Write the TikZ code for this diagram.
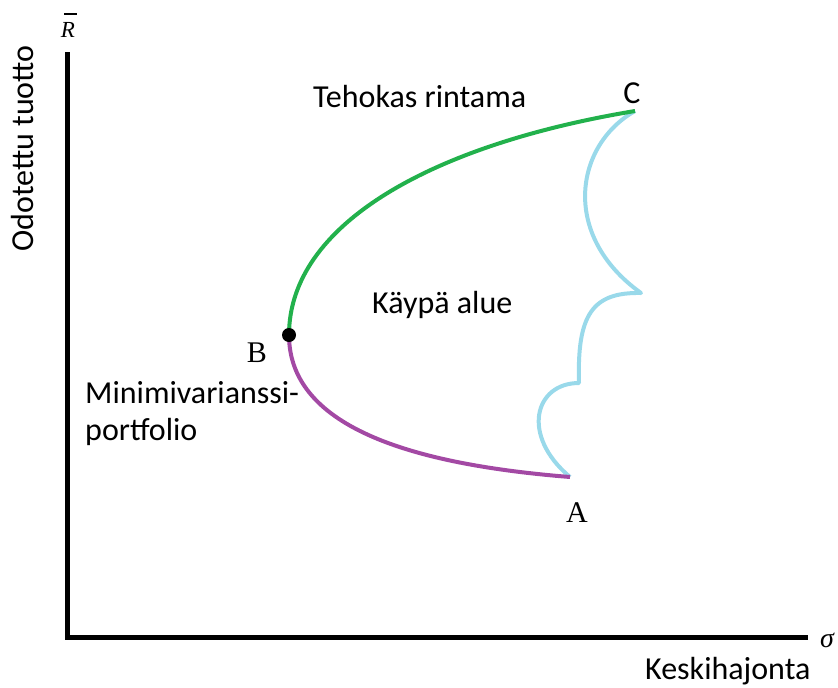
\documentclass[tikz,border=0pt]{standalone}
\usepackage{fontspec}
\setmainfont{Carlito}
\newfontfamily\serifA{Liberation Serif}
\definecolor{effgreen}{RGB}{34,177,76}
\definecolor{minpurple}{RGB}{163,73,164}
\definecolor{setblue}{RGB}{153,217,234}
\tikzset{
  axisline/.style={line width=5pt},
  curveline/.style={line width=4pt},
  lbl/.style={font=\fontsize{32}{38}\selectfont, inner sep=0pt},
  pointlbl/.style={font=\fontsize{30}{36}\selectfont\serifA, inner sep=0pt},
  mathlbl/.style={font=\serifA\itshape, inner sep=0pt},
}
\begin{document}
\begin{tikzpicture}[x=1pt,y=-1pt]
\useasboundingbox (0,0) rectangle (838,688);
% key points
\coordinate (O) at (67,637);
\coordinate (Ytop) at (67,52);
\coordinate (Xend) at (808,637);
\coordinate (B) at (289,335);
\coordinate (C) at (635,111);
\coordinate (A) at (570,477);
\coordinate (K1) at (641,293);
\coordinate (K2) at (579,383);
% axes
\draw[axisline] (Ytop) -- (O) -- (Xend);
% feasible set boundary
\draw[curveline, setblue, line join=round] (C) .. controls (575,145) and (560,235) .. (K1)
  .. controls (592,292) and (577,315) .. (K2)
  .. controls (535,383) and (520,435) .. (A);
% efficient frontier
\draw[curveline, effgreen] (B) .. controls (289,225) and (430,145) .. (C);
% lower part
\draw[curveline, minpurple] (B) .. controls (289,430) and (420,465) .. (A);
\fill (B) circle (7);
% labels
\node[lbl, anchor=base west] (teho) at (313,107) {Tehokas rintama};
\node[lbl, anchor=base] (lc) at (632,103) {C};
\node[lbl, anchor=base west] (kaypa) at (372,313) {Käypä alue};
\node[lbl, anchor=base west] (mv1) at (85,403) {Minimivarianssi-};
\node[lbl, anchor=base west] (mv2) at (85,440) {portfolio};
\node[pointlbl, anchor=base] (lb) at (257,362) {B};
\node[pointlbl, anchor=base] (la) at (577,522) {A};
\node[lbl, anchor=base west] (xl) at (645,679) {Keskihajonta};
\node[lbl, anchor=base west, rotate=90] (yl) at (34,252) {Odotettu tuotto};
\node[mathlbl, anchor=base, font=\fontsize{23}{27}\selectfont\serifA\itshape] (rbar) at (68,37) {R};
\draw[line width=1.6pt] (64,14) -- (77,14);
\node[mathlbl, anchor=base west, font=\fontsize{28}{32}\selectfont\serifA\itshape] (sig) at (820,647) {σ};
\end{tikzpicture}
\end{document}
